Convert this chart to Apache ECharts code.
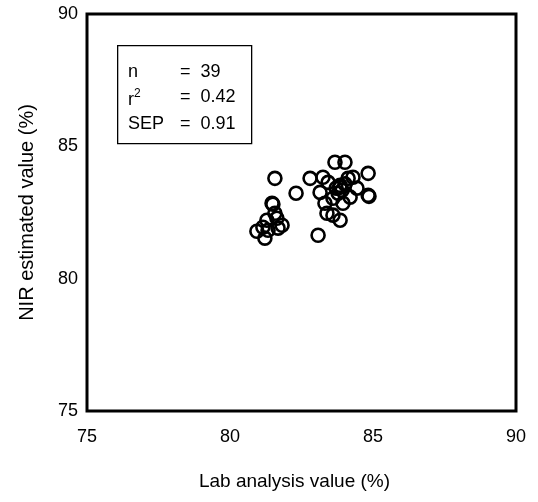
<!DOCTYPE html>
<html>
<head>
<meta charset="utf-8">
<script src="https://cdn.jsdelivr.net/npm/echarts@6/dist/echarts.min.js"></script>
<style>
html,body{margin:0;padding:0;background:#fff;}
#chart{width:538px;height:502px;}
</style>
</head>
<body>
<div id="chart"></div>
<script>
// Lab analysis value (%)
var labValues = [81.47, 81.50, 80.94, 81.22, 81.29, 81.64, 81.82, 81.33, 81.68, 81.15, 81.57, 81.57, 82.31,
  83.67, 84.02, 82.80, 84.83, 84.83, 84.86, 83.08, 83.39, 83.60, 83.85, 83.15, 83.25, 83.43, 83.85,
  84.30, 84.44, 84.13, 83.95, 83.60, 83.32, 83.78, 84.20, 83.85, 83.92, 83.71, 84.02];
// NIR estimated value (%)
var nirValues = [82.85, 82.81, 81.79, 81.53, 82.21, 82.28, 82.02, 81.83, 81.91, 81.94, 82.47, 83.79, 83.23,
  84.40, 84.40, 83.79, 83.98, 83.15, 83.11, 81.64, 82.47, 82.40, 82.21, 83.26, 83.83, 83.64, 83.45,
  83.83, 83.42, 83.79, 82.85, 83.04, 82.85, 83.23, 83.08, 83.53, 83.34, 83.42, 83.58];
var axisTicks = [75, 80, 85, 90];
var statLabels = ['n', 'r', 'SEP'];
var statValues = ['39', '0.42', '0.91'];

var points = labValues.map(function (v, i) { return [v, nirValues[i]]; });
var font = 'Liberation Sans, Arial, sans-serif';

var chart = echarts.init(document.getElementById('chart'), null, {renderer: 'canvas'});
var rowY = [73, 98, 125];
var statGraphics = [{
  type: 'rect', left: 117, top: 45,
  shape: {width: 134, height: 98},
  style: {fill: '#fff', stroke: '#000', lineWidth: 1.3}
}];
statLabels.forEach(function (lab, i) {
  statGraphics.push({
    type: 'text', left: 128, top: rowY[i] - 10,
    style: {
      text: i === 1 ? '{b|r}{s|2}' : lab,
      rich: {b: {fontSize: 18, fontFamily: font, fill: '#000'}, s: {fontSize: 12, fontFamily: font, fill: '#000', verticalAlign: 'top', padding: [0,0,12,0]}},
      font: '18px ' + font, fill: '#000'
    }
  });
  statGraphics.push({
    type: 'text', left: 180, top: rowY[i] - 10,
    style: {text: '=  ' + statValues[i], font: '18px ' + font, fill: '#000'}
  });
});

chart.setOption({
  backgroundColor: '#fff',
  animation: false,
  grid: {left: 87, top: 14, right: 22, bottom: 91, show: true, borderColor: '#000', borderWidth: 3, backgroundColor: 'transparent'},
  xAxis: {
    type: 'value', min: axisTicks[0], max: axisTicks[axisTicks.length - 1], interval: 5,
    name: 'Lab analysis value (%)', nameLocation: 'middle', nameGap: 61,
    nameTextStyle: {fontSize: 19, fontFamily: font, color: '#000', padding: [0, 14, 0, 0]},
    axisLine: {show: false}, axisTick: {show: false}, splitLine: {show: false},
    axisLabel: {fontSize: 18, fontFamily: font, color: '#000', margin: 17}
  },
  yAxis: {
    type: 'value', min: axisTicks[0], max: axisTicks[axisTicks.length - 1], interval: 5,
    name: 'NIR estimated value (%)', nameLocation: 'middle', nameGap: 50,
    nameTextStyle: {fontSize: 20, fontFamily: font, color: '#000'},
    axisLine: {show: false}, axisTick: {show: false}, splitLine: {show: false},
    axisLabel: {fontSize: 18, fontFamily: font, color: '#000', margin: 9}
  },
  graphic: statGraphics,
  series: [{
    type: 'scatter',
    data: points,
    symbol: 'circle',
    symbolSize: 13,
    itemStyle: {color: 'rgba(0,0,0,0)', borderColor: '#000', borderWidth: 2.6, opacity: 1}
  }]
});
</script>
</body>
</html>
